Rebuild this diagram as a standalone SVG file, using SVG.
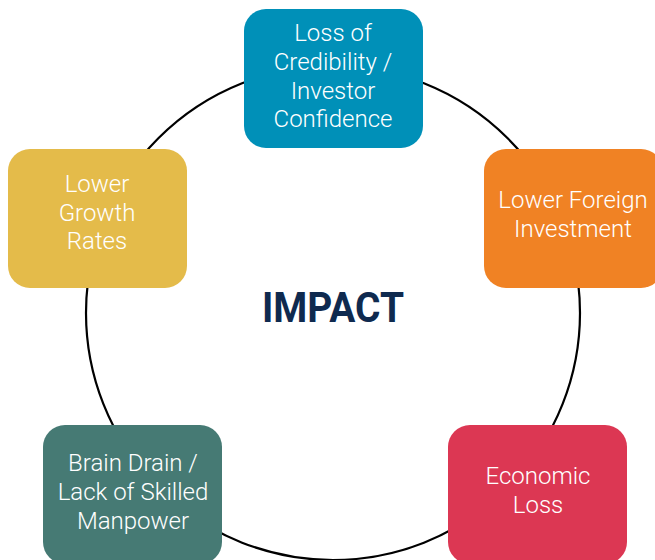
<svg xmlns="http://www.w3.org/2000/svg" width="655" height="560" viewBox="0 0 655 560">
<style>
.box{stroke:none}
.lbl{font-family:Roboto,"Liberation Sans",sans-serif;font-weight:300;font-size:24px;fill:#fff;text-anchor:middle}
</style>
<rect width="655" height="560" fill="#fff"/>
<g id="connectors">
<circle cx="333" cy="313" r="247" fill="none" stroke="#000" stroke-width="2.2"/>
</g>
<g id="center">
<text x="333" y="322" font-family="Roboto,'Liberation Sans',sans-serif" font-weight="700" font-size="43" fill="#0F2A4F" text-anchor="middle" textLength="142" lengthAdjust="spacingAndGlyphs">IMPACT</text>
</g>
<g id="node-credibility">
<rect class="box" x="244" y="9" width="179" height="139" rx="22" fill="#0090B8"/>
<text class="lbl" x="333" y="41">Loss of</text>
<text class="lbl" x="333" y="70">Credibility /</text>
<text class="lbl" x="333" y="99">Investor</text>
<text class="lbl" x="333" y="127">Confidence</text>
</g>
<g id="node-foreign">
<rect class="box" x="484" y="149" width="179" height="139" rx="22" fill="#F08224"/>
<text class="lbl" x="573" y="208">Lower Foreign</text>
<text class="lbl" x="573" y="237">Investment</text>
</g>
<g id="node-economic">
<rect class="box" x="448" y="425" width="179" height="139" rx="22" fill="#DC3753"/>
<text class="lbl" x="538" y="484">Economic</text>
<text class="lbl" x="538" y="513">Loss</text>
</g>
<g id="node-brain">
<rect class="box" x="43" y="425" width="179" height="139" rx="22" fill="#467A74"/>
<text class="lbl" x="133" y="471">Brain Drain /</text>
<text class="lbl" x="133" y="500">Lack of Skilled</text>
<text class="lbl" x="133" y="529">Manpower</text>
</g>
<g id="node-growth">
<rect class="box" x="8" y="149" width="179" height="139" rx="22" fill="#E4BB4A"/>
<text class="lbl" x="97" y="192">Lower</text>
<text class="lbl" x="97" y="221">Growth</text>
<text class="lbl" x="97" y="249">Rates</text>
</g>
</svg>
